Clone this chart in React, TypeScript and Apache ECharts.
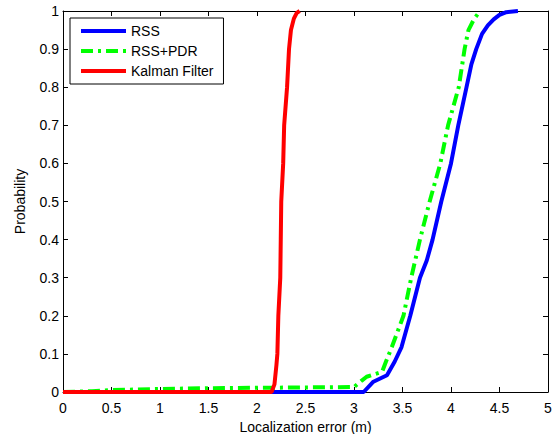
import React, { useEffect, useRef } from "react";
import * as echarts from "echarts";

const seriesNames = ["RSS", "RSS+PDR", "Kalman Filter"];
const seriesColors = ["#0000FF", "#00FF00", "#FF0000"];

const rssData: [number, number][] = [
  [0, 0], [3.1, 0], [3.2, 0.027], [3.34, 0.044], [3.42, 0.08], [3.49, 0.118],
  [3.58, 0.2], [3.68, 0.3], [3.75, 0.345], [3.81, 0.4], [3.9, 0.5], [4.0, 0.6],
  [4.075, 0.7], [4.16, 0.8], [4.21, 0.86], [4.26, 0.9], [4.32, 0.94],
  [4.38, 0.962], [4.44, 0.978], [4.5, 0.99], [4.57, 0.997], [4.69, 1],
];

const rssPdrData: [number, number][] = [
  [0, 0], [0.3, 0.002], [0.5, 0.005], [1.0, 0.008], [1.5, 0.01], [2.0, 0.011],
  [2.5, 0.012], [3.0, 0.013], [3.08, 0.03], [3.13, 0.04], [3.29, 0.053],
  [3.33, 0.08], [3.39, 0.118], [3.51, 0.2], [3.59, 0.3], [3.68, 0.4],
  [3.78, 0.5], [3.89, 0.6], [3.97, 0.7], [4.08, 0.8], [4.14, 0.9],
  [4.18, 0.95], [4.24, 0.98], [4.3, 1],
];

const kalmanData: [number, number][] = [
  [0, 0], [2.15, 0], [2.18, 0.02], [2.2, 0.07], [2.21, 0.1], [2.22, 0.2],
  [2.24, 0.3], [2.245, 0.4], [2.25, 0.5], [2.27, 0.6], [2.28, 0.7],
  [2.31, 0.8], [2.33, 0.9], [2.35, 0.95], [2.38, 0.98], [2.41, 0.995],
  [2.44, 1],
];

const xTitle = "Localization error (m)";
const yTitle = "Probability";

const FONT = "Liberation Sans, Arial, Helvetica, sans-serif";

export default function App() {
  const ref = useRef<HTMLDivElement>(null);
  useEffect(() => {
    if (!ref.current) return;
    const chart = echarts.init(ref.current, null, { renderer: "svg" });
    const axisLine = { show: true, onZero: false, lineStyle: { color: "#000", width: 1 } };
    const axisTick = { show: true, inside: true, length: 5, lineStyle: { color: "#000" } };
    const xCommon = { type: "value" as const, min: 0, max: 5, interval: 0.5, splitLine: { show: false } };
    const yCommon = { type: "value" as const, min: 0, max: 1, interval: 0.1, splitLine: { show: false } };
    const lineTypes: any[] = ["solid", [12, 5, 3, 5], "solid"];
    const datas = [rssData, rssPdrData, kalmanData];
    chart.setOption({
      animation: false,
      backgroundColor: "#fff",
      textStyle: { fontFamily: FONT },
      grid: { left: 63, right: 11, top: 11, bottom: 42, containLabel: false, outerBoundsMode: "none" },
      legend: {
        orient: "vertical",
        left: 70,
        top: 18,
        padding: [6, 10, 6, 9],
        itemWidth: 45,
        itemHeight: 14,
        itemGap: 6,
        borderColor: "#000",
        borderWidth: 1,
        backgroundColor: "#fff",
        textStyle: { fontFamily: FONT, fontSize: 14, color: "#000" },
        itemStyle: { opacity: 0 },
        lineStyle: { width: 4 },
        data: seriesNames,
      },
      xAxis: [
        {
          ...xCommon,
          position: "bottom",
          name: xTitle,
          nameLocation: "middle",
          nameGap: 23,
          nameTextStyle: { fontFamily: FONT, fontSize: 14, color: "#000" },
          axisLine,
          axisTick,
          axisLabel: { fontFamily: FONT, fontSize: 14, color: "#000", margin: 9 },
        },
        {
          ...xCommon,
          position: "top",
          axisLine,
          axisTick,
          axisLabel: { show: false },
        },
      ],
      yAxis: [
        {
          ...yCommon,
          position: "left",
          name: yTitle,
          nameLocation: "middle",
          nameGap: 36,
          nameTextStyle: { fontFamily: FONT, fontSize: 14, color: "#000" },
          axisLine,
          axisTick,
          axisLabel: { fontFamily: FONT, fontSize: 14, color: "#000", margin: 4 },
        },
        {
          ...yCommon,
          position: "right",
          axisLine,
          axisTick,
          axisLabel: { show: false },
        },
      ],
      series: seriesNames.map((name, i) => ({
        name,
        type: "line",
        data: datas[i],
        symbol: "none",
        showSymbol: false,
        clip: false,
        color: seriesColors[i],
        lineStyle: { color: seriesColors[i], width: 4, type: lineTypes[i] },
        xAxisIndex: 0,
        yAxisIndex: 0,
      })),
    });
    return () => chart.dispose();
  }, []);
  return (
    <div
      ref={ref}
      style={{ position: "fixed", left: 0, top: 0, width: 559, height: 434, background: "#fff" }}
    />
  );
}
